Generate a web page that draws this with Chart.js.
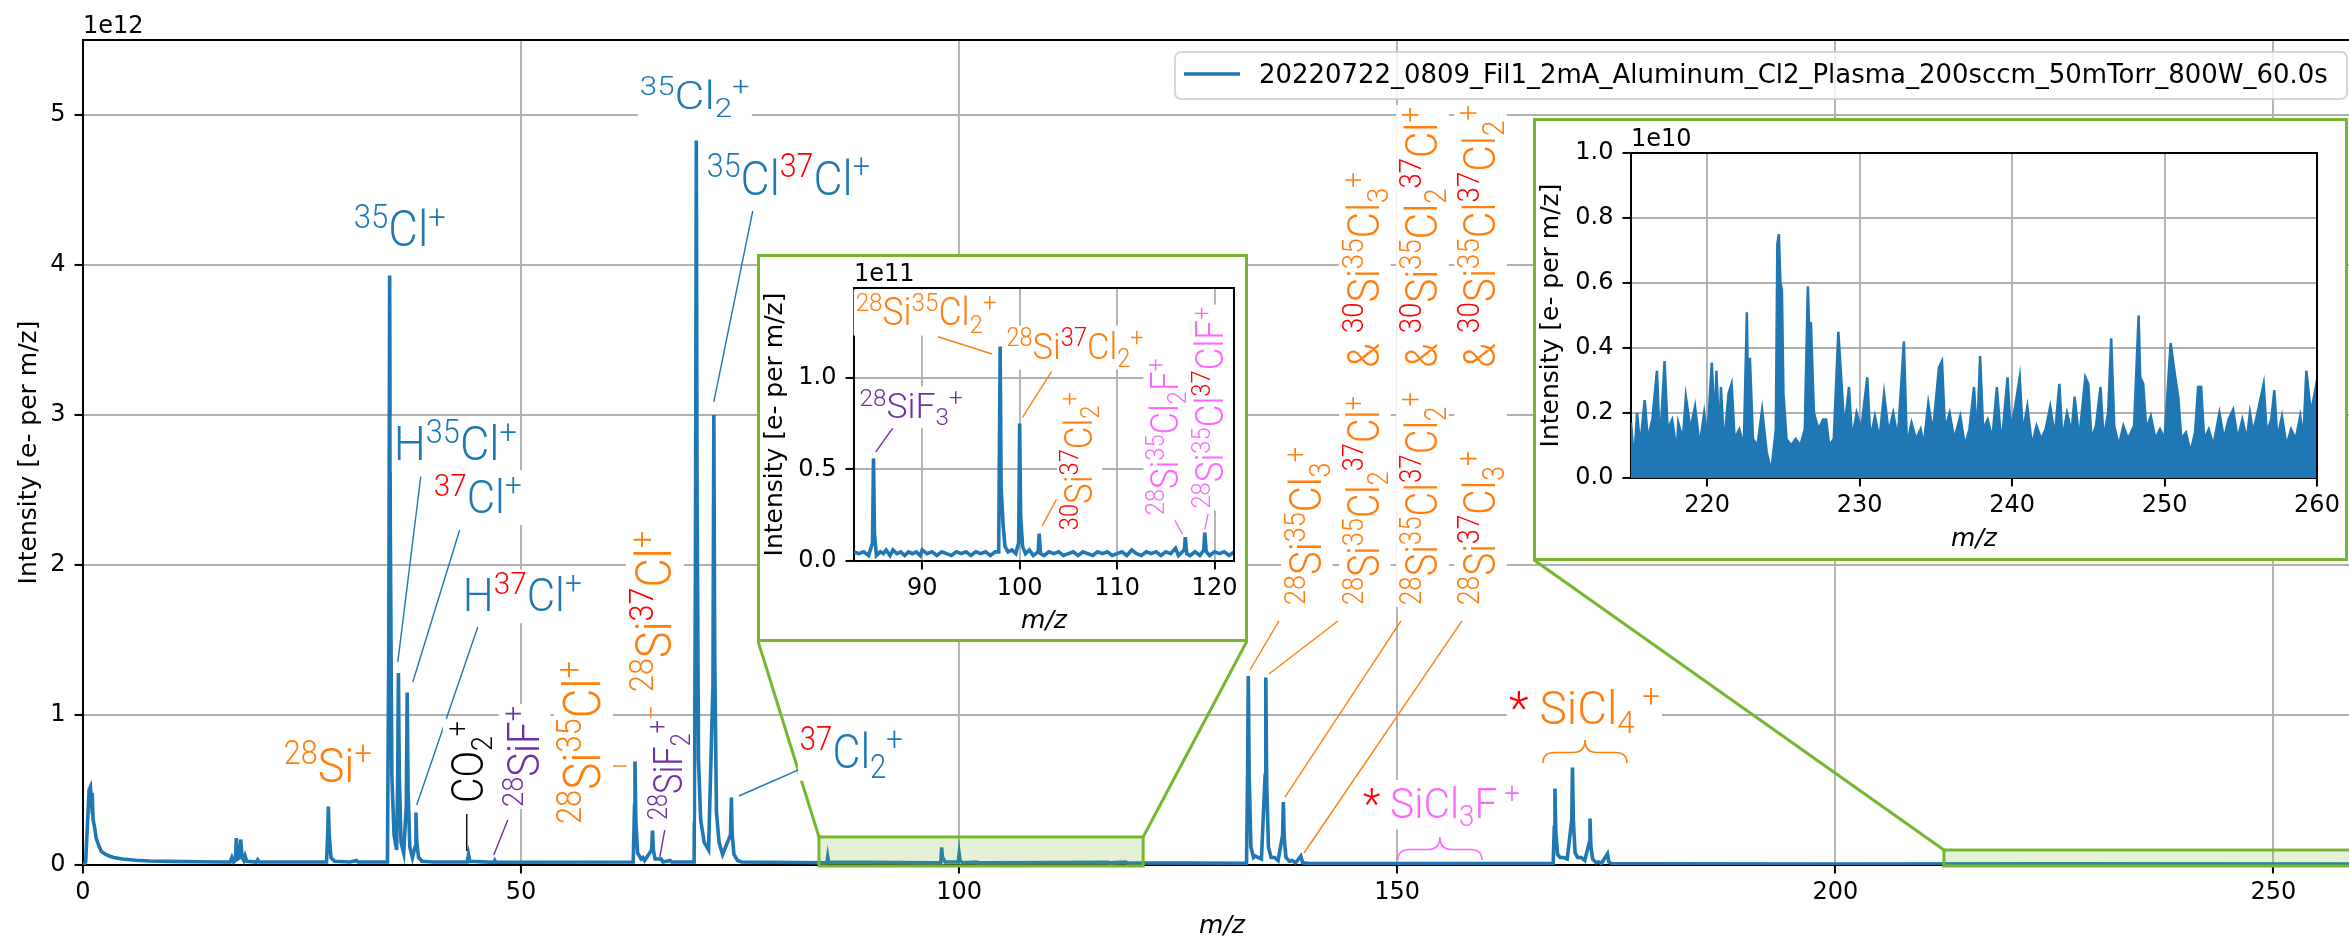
<!DOCTYPE html>
<html><head><meta charset="utf-8">
<script src="https://cdn.jsdelivr.net/npm/chart.js@4"></script>
<style>
body{margin:0;background:#fff;overflow:hidden;width:2349px;height:940px;position:relative}
canvas{display:block}
.box{position:absolute;background:#fff}
</style></head><body>
<canvas id="main" width="2365" height="940" style="position:absolute;left:0;top:0"></canvas>
<div class="box" id="box1"><canvas id="in1"></canvas></div>
<div class="box" id="box2"><canvas id="in2"></canvas></div>
<script>
// ---- data (m/z, intensity) ----
const legendLabel = '20220722_0809_Fil1_2mA_Aluminum_Cl2_Plasma_200sccm_50mTorr_800W_60.0s';

// full spectrum, intensity in units of 1e12 e- per m/z
const mainSpectrum = [
  [0.0,0.0],[0.3,0.02],[0.55,0.32],[0.7,0.5],[0.85,0.52],[0.95,0.44],[1.05,0.48],[1.15,0.3],[1.3,0.26],[1.5,0.18],
  [1.8,0.13],[2.1,0.09],[2.6,0.07],[3.0,0.06],[3.5,0.05],[4.5,0.04],[6,0.032],[7.6,0.027],[10,0.024],[13,0.022],[16,0.02],
  [16.8,0.02],[17.0,0.05],[17.2,0.02],[17.4,0.03],[17.5,0.18],[17.65,0.04],[17.9,0.05],[18.0,0.17],[18.15,0.05],[18.35,0.03],
  [18.5,0.06],[18.7,0.025],[19.8,0.02],[19.95,0.035],[20.15,0.02],
  [27.8,0.02],[27.95,0.25],[28.0,0.39],[28.1,0.2],[28.3,0.05],[28.7,0.025],[30.5,0.02],[31.2,0.03],[31.4,0.02],
  [34.75,0.02],[34.9,1.5],[35.0,3.93],[35.08,2.2],[35.25,0.6],[35.5,0.2],[35.8,0.1],[35.92,0.6],[36.0,1.28],[36.1,0.6],
  [36.3,0.15],[36.6,0.08],[36.9,0.4],[37.0,1.15],[37.1,0.5],[37.3,0.12],[37.6,0.05],[37.9,0.12],[38.0,0.35],[38.1,0.15],
  [38.3,0.05],[38.7,0.025],[40,0.02],
  [43.85,0.02],[44.0,0.07],[44.15,0.025],[46.9,0.018],[47.0,0.03],[47.1,0.018],
  [62.8,0.02],[62.95,0.4],[63.0,0.69],[63.1,0.3],[63.3,0.08],[63.7,0.04],[63.9,0.05],[64.1,0.03],[64.9,0.1],[65.0,0.23],
  [65.1,0.1],[65.3,0.04],[66.0,0.04],[66.2,0.02],[67.0,0.03],[67.2,0.02],
  [69.75,0.02],[69.9,2.0],[70.0,4.83],[70.08,2.6],[70.25,0.7],[70.5,0.3],[70.9,0.15],[71.4,0.1],[71.9,1.2],[72.0,3.0],
  [72.1,1.4],[72.3,0.35],[72.6,0.15],[73.0,0.07],[73.9,0.2],[74.0,0.45],[74.1,0.2],[74.3,0.07],[74.7,0.03],[75.2,0.02],
  [84.9,0.015],[85.0,0.056],[85.1,0.02],[97.9,0.015],[98.0,0.117],[98.1,0.05],[98.4,0.02],[99.9,0.02],[100.0,0.075],
  [100.1,0.03],[100.4,0.015],[102.0,0.02],[102.2,0.015],[117.0,0.018],[117.2,0.014],[119.0,0.02],[119.2,0.014],
  [132.8,0.012],[132.92,0.6],[133.0,1.26],[133.1,0.6],[133.3,0.12],[133.6,0.05],[133.8,0.06],[134.1,0.05],[134.5,0.04],
  [134.92,0.6],[135.0,1.25],[135.1,0.55],[135.3,0.12],[135.6,0.05],[136.0,0.05],[136.4,0.03],[136.92,0.2],[137.0,0.42],
  [137.1,0.18],[137.3,0.05],[137.7,0.025],[138.0,0.03],[138.4,0.015],[139.0,0.06],[139.2,0.015],[140,0.01],
  [167.8,0.01],[167.92,0.25],[168.0,0.51],[168.1,0.22],[168.3,0.07],[168.6,0.05],[169.0,0.05],[169.4,0.04],[169.92,0.3],
  [170.0,0.65],[170.1,0.3],[170.3,0.08],[170.6,0.05],[171.0,0.05],[171.4,0.03],[171.92,0.15],[172.0,0.31],[172.1,0.13],
  [172.3,0.04],[172.7,0.015],[173.0,0.02],[173.3,0.01],[174.0,0.075],[174.15,0.02],[174.5,0.01],[176,0.008],[200,0.006],
  [225,0.008],[260,0.006]
];

// zoom 83-122, intensity in units of 1e11
const inset1Spectrum = [
  [83,0.05],[83.5,0.04],[84,0.05],[84.5,0.03],[84.9,0.1],[85.0,0.56],[85.1,0.15],[85.3,0.03],[85.7,0.05],[86.0,0.04],
  [86.3,0.06],[86.7,0.03],[87.0,0.06],[87.4,0.04],[87.8,0.05],[88.2,0.03],[88.6,0.05],[89.0,0.04],[89.4,0.05],[89.8,0.03],
  [90.0,0.06],[90.5,0.04],[91.0,0.05],[91.5,0.03],[92,0.05],[92.5,0.04],[93,0.03],[93.5,0.05],[94,0.04],[94.5,0.05],
  [95,0.03],[95.5,0.05],[96,0.04],[96.5,0.05],[97,0.03],[97.5,0.05],[97.85,0.05],[98.0,1.17],[98.1,0.4],[98.3,0.2],
  [98.5,0.08],[98.8,0.05],[99.2,0.06],[99.6,0.04],[99.9,0.1],[100.0,0.75],[100.1,0.25],[100.3,0.08],[100.6,0.04],
  [101.0,0.06],[101.4,0.03],[101.9,0.05],[102.0,0.15],[102.15,0.04],[102.5,0.03],[103,0.05],[103.5,0.04],[104,0.05],
  [104.5,0.03],[105,0.04],[105.5,0.05],[106,0.03],[106.5,0.05],[107,0.04],[107.5,0.03],[108,0.05],[108.5,0.04],
  [109,0.05],[109.5,0.03],[110,0.04],[110.5,0.05],[111,0.03],[111.5,0.06],[112,0.04],[112.5,0.03],[113,0.05],
  [113.5,0.04],[114,0.05],[114.5,0.03],[115,0.05],[115.5,0.04],[116,0.07],[116.3,0.03],[116.9,0.06],[117.0,0.13],
  [117.15,0.04],[117.5,0.03],[118,0.05],[118.5,0.03],[118.9,0.06],[119.0,0.155],[119.15,0.05],[119.5,0.03],[120,0.05],
  [120.5,0.04],[121,0.05],[121.5,0.03],[122,0.05]
];

// zoom 215-260, intensity in units of 1e10
const inset2Spectrum = [
  [215.0,0.17],[215.2,0.05],[215.4,0.2],[215.6,0.1],[215.9,0.24],[216.1,0.12],[216.4,0.18],[216.7,0.33],[216.9,0.1],
  [217.2,0.36],[217.4,0.15],[217.7,0.18],[218.0,0.08],[218.1,0.17],[218.4,0.12],[218.6,0.25],[218.9,0.15],[219.2,0.22],
  [219.5,0.1],[219.8,0.2],[220.0,0.12],[220.3,0.355],[220.5,0.15],[220.6,0.33],[220.8,0.12],[220.9,0.28],[221.1,0.1],
  [221.4,0.26],[221.6,0.29],[221.8,0.12],[222.1,0.15],[222.4,0.1],[222.6,0.51],[222.7,0.2],[222.8,0.37],[223.0,0.12],
  [223.3,0.1],[223.6,0.21],[223.9,0.08],[224.2,0.02],[224.5,0.15],[224.6,0.72],[224.7,0.75],[224.8,0.6],[224.9,0.58],
  [225.0,0.26],[225.2,0.12],[225.5,0.1],[225.8,0.12],[226.1,0.1],[226.4,0.15],[226.6,0.59],[226.7,0.45],[226.8,0.48],
  [227.0,0.2],[227.3,0.15],[227.6,0.18],[227.8,0.18],[228.0,0.1],[228.3,0.12],[228.6,0.45],[228.8,0.3],[229.0,0.15],
  [229.3,0.28],[229.5,0.12],[229.8,0.2],[230.1,0.15],[230.5,0.31],[230.7,0.12],[231.0,0.19],[231.3,0.12],[231.6,0.26],
  [231.9,0.14],[232.2,0.2],[232.5,0.12],[232.9,0.42],[233.1,0.1],[233.4,0.17],[233.7,0.12],[234.0,0.15],[234.2,0.1],
  [234.5,0.23],[234.8,0.14],[235.2,0.34],[235.4,0.36],[235.6,0.15],[235.9,0.2],[236.2,0.12],[236.6,0.19],[236.9,0.1],
  [237.2,0.15],[237.5,0.28],[237.7,0.12],[237.9,0.375],[238.1,0.15],[238.4,0.18],[238.7,0.12],[239.0,0.28],[239.3,0.1],
  [239.7,0.31],[239.9,0.15],[240.2,0.22],[240.5,0.31],[240.7,0.14],[241.0,0.22],[241.3,0.1],[241.6,0.16],[241.9,0.12],
  [242.2,0.15],[242.5,0.22],[242.8,0.13],[243.1,0.29],[243.3,0.12],[243.6,0.2],[243.9,0.14],[244.1,0.25],[244.4,0.12],
  [244.8,0.31],[245.0,0.29],[245.2,0.12],[245.5,0.16],[245.8,0.28],[246.0,0.12],[246.3,0.2],[246.5,0.43],[246.7,0.16],
  [247.0,0.1],[247.3,0.16],[247.6,0.12],[248.0,0.16],[248.3,0.5],[248.4,0.31],[248.6,0.29],[248.8,0.15],[249.1,0.19],
  [249.4,0.12],[249.7,0.15],[250.0,0.12],[250.4,0.415],[250.7,0.31],[250.9,0.25],[251.1,0.12],[251.4,0.14],[251.7,0.08],
  [252.0,0.14],[252.2,0.28],[252.4,0.28],[252.6,0.12],[252.9,0.15],[253.2,0.1],[253.6,0.2],[253.9,0.12],[254.2,0.18],
  [254.5,0.21],[254.8,0.12],[255.1,0.18],[255.4,0.12],[255.6,0.2],[255.8,0.14],[256.1,0.2],[256.5,0.29],[256.7,0.14],
  [257.0,0.18],[257.2,0.27],[257.4,0.12],[257.7,0.19],[258.0,0.1],[258.3,0.15],[258.6,0.12],[258.9,0.19],[259.1,0.12],
  [259.3,0.33],[259.6,0.2],[260.0,0.3]
];

const mainXTicks = [0, 50, 100, 150, 200, 250];
const mainYTicks = [0, 1, 2, 3, 4, 5];
const in1XTicks = [90, 100, 110, 120];
const in1YTicks = [0, 0.5, 1.0];
const in2XTicks = [220, 230, 240, 250, 260];
const in2YTicks = [0, 0.2, 0.4, 0.6, 0.8, 1.0];
// zoom regions marked on the main axes (m/z range, intensity top in 1e12)
const zoom1 = {x0: 84, x1: 121, top: 0.187};
const zoom2 = {x0: 212.4, x1: 263, top: 0.10};

// ---- styles ----
const B='#1f77b4', O='#ff7f0e', R='#ff0000', P='#7030a0', M='#ff66ff', K='#000000';
const GRID='#b0b0b0', GREEN='#76b731', GREEN_FILL='rgba(118,183,49,0.2)';
const LBL = 'Roboto, "Noto Sans", sans-serif';
const tickFont = {family:'DejaVu Sans', size:24};
const titleFont = {family:'DejaVu Sans', size:25, lineHeight:1};
const BOX1 = {left:757, top:254, w:491, h:388};
const BOX2 = {left:1533, top:118, w:815, h:443};

function placeBox(id, b) {
  const d = document.getElementById(id);
  d.style.left = b.left+'px'; d.style.top = b.top+'px';
  d.style.width = b.w+'px'; d.style.height = b.h+'px';
  const c = d.querySelector('canvas'); c.width = b.w; c.height = b.h;
}
placeBox('box1', BOX1); placeBox('box2', BOX2);

function fnt(k, S) { return '300 ' + (k === 'n' ? S : S*0.68).toFixed(1) + 'px ' + LBL; }
function richW(ctx, segs, S) {
  let w = 0;
  for (const s of segs) { ctx.font = fnt(s[1], S); w += ctx.measureText(s[0]).width; }
  return w;
}
// segments: [text, 'n'|'u'|'d', colour]; len = target drawn length in px
function rich(ctx, segs, x, y, S, len, rot, box) {
  const w = richW(ctx, segs, S), sx = len ? len/w : 1, W = w*sx;
  ctx.save();
  ctx.translate(x, y);
  if (rot) ctx.rotate(-Math.PI/2);
  if (box) { ctx.fillStyle = '#fff'; ctx.fillRect(-2, -0.86*S-2, W+4, 1.08*S+4); }
  ctx.scale(sx, 1);
  ctx.textAlign = 'left'; ctx.textBaseline = 'alphabetic';
  let cx = 0;
  for (const [t, k, c] of segs) {
    ctx.font = fnt(k, S); ctx.fillStyle = c;
    ctx.fillText(t, cx, k === 'u' ? -0.36*S : k === 'd' ? 0.2*S : 0);
    cx += ctx.measureText(t).width;
  }
  ctx.restore();
}
function seg(ctx, x1, y1, x2, y2, c, w) {
  ctx.save(); ctx.strokeStyle = c; ctx.lineWidth = w || 1.4;
  ctx.beginPath(); ctx.moveTo(x1, y1); ctx.lineTo(x2, y2); ctx.stroke(); ctx.restore();
}
function brace(ctx, x1, x2, yT, yE, c) {
  const xm = (x1+x2)/2, yM = (yT+yE)/2 + 1, q = 12;
  ctx.save(); ctx.strokeStyle = c; ctx.lineWidth = 1.6; ctx.beginPath();
  ctx.moveTo(x1, yE); ctx.quadraticCurveTo(x1, yM, x1+q, yM); ctx.lineTo(xm-q, yM);
  ctx.quadraticCurveTo(xm, yM, xm, yT); ctx.quadraticCurveTo(xm, yM, xm+q, yM);
  ctx.lineTo(x2-q, yM); ctx.quadraticCurveTo(x2, yM, x2, yE); ctx.stroke(); ctx.restore();
}

// ---- label specs (positions in data units of each axes) ----
const mainLabels = [
  {s:[['35','u',B],['Cl','n',B],['+','u',B]], x:30.90, y:4.127, S:50, len:92},
  {s:[['35','u',B],['Cl','n',B],['2','d',B],['+','u',B]], x:63.55, y:5.04, S:38, len:110},
  {s:[['35','u',B],['Cl','n',B],['37','u',R],['Cl','n',B],['+','u',B]], x:71.20, y:4.467, S:49, len:163},
  {s:[['H','n',B],['35','u',B],['Cl','n',B],['+','u',B]], x:35.47, y:2.70, S:48, len:123},
  {s:[['37','u',R],['Cl','n',B],['+','u',B]], x:40.03, y:2.349, S:47, len:88},
  {s:[['H','n',B],['37','u',R],['Cl','n',B],['+','u',B]], x:43.34, y:1.693, S:46, len:119},
  {s:[['28','u',O],['Si','n',O],['+','u',O]], x:22.91, y:0.553, S:49, len:88},
  {s:[['37','u',R],['Cl','n',B],['2','d',B],['+','u',B]], x:81.82, y:0.647, S:49, len:103},
  {s:[['*','n',R],[' ','n',M],['SiCl','n',M],['3','d',M],['F','n',M],[' +','u',M]], x:146.08, y:0.313, S:42, len:157},
  {s:[['*','n',R],[' ','n',O],['SiCl','n',O],['4','d',O],[' +','u',O]], x:162.75, y:0.94, S:47, len:151}
];
const mainRotLabels = [
  {s:[['CO','n',K],['2','d',K],['+','u',K]], x:45.62, y:0.413, S:44, len:82},
  {s:[['28','u',P],['SiF','n',P],['+','u',P]], x:52.02, y:0.387, S:44, len:101},
  {s:[['28','u',O],['Si','n',O],['35','u',O],['Cl','n',O],['+','u',O]], x:58.98, y:0.273, S:51, len:163},
  {s:[['28','u',O],['Si','n',O],['37','u',R],['Cl','n',O],['+','u',O]], x:67.09, y:1.153, S:50, len:161},
  {s:[['28','u',P],['SiF','n',P],['2','d',P],['+','u',P]], x:68.35, y:0.30, S:41, len:100}
];
const mainColumns = [
  {x:141.29, S:44, top:2.787, parts:[
    {s:[['28','u',O],['Si','n',O],['35','u',O],['Cl','n',O],['3','d',O],['+','u',O]], y:1.733, len:158}]},
  {x:147.91, S:44, top:4.62, parts:[
    {s:[['28','u',O],['Si','n',O],['35','u',O],['Cl','n',O],['2','d',O],['37','u',R],['Cl','n',O],['+','u',O]], y:1.733, len:209},
    {s:[['& ','n',O],['30','u',R],['Si','n',O],['35','u',O],['Cl','n',O],['3','d',O],['+','u',O]], y:3.313, len:196}]},
  {x:154.53, S:45, top:5.053, parts:[
    {s:[['28','u',O],['Si','n',O],['35','u',O],['Cl','n',O],['37','u',R],['Cl','n',O],['2','d',O],['+','u',O]], y:1.733, len:213},
    {s:[['& ','n',O],['30','u',R],['Si','n',O],['35','u',O],['Cl','n',O],['2','d',O],['37','u',R],['Cl','n',O],['+','u',O]], y:3.313, len:261}]},
  {x:161.15, S:45, top:5.067, parts:[
    {s:[['28','u',O],['Si','n',O],['37','u',R],['Cl','n',O],['3','d',O],['+','u',O]], y:1.733, len:154},
    {s:[['& ','n',O],['30','u',R],['Si','n',O],['35','u',O],['Cl','n',O],['37','u',R],['Cl','n',O],['2','d',O],['+','u',O]], y:3.313, len:263}]}
];
const mainLeaders = [
  [76.44,4.36,72.0,3.087,B],[38.55,2.59,35.93,1.353,B],[42.99,2.233,37.64,1.22,B],[45.06,1.587,38.09,0.40,B],
  [43.80,0.34,43.80,0.093,K],[48.48,0.30,46.88,0.067,P],[59.33,0.66,62.07,0.66,O],[64.80,1.053,64.80,0.347,O],
  [66.40,0.233,65.83,0.053,P],[82.96,0.667,74.85,0.46,B],
  [136.5,1.627,133.19,1.30,O],[143.23,1.627,135.36,1.273,O],[150.43,1.627,137.19,0.453,O],[157.39,1.627,139.36,0.08,O]
];
const mainBraces = [[150.08,159.67,0.187,0.033,M],[166.63,176.22,0.833,0.68,O]];

const in1Labels = [
  {s:[['28','u',P],['SiF','n',P],['3','d',P],['+','u',P]], x:83.57, y:0.778, S:35, len:103},
  {s:[['28','u',O],['Si','n',O],['35','u',O],['Cl','n',O],['2','d',O],['+','u',O]], x:83.17, y:1.288, S:39, len:141},
  {s:[['28','u',O],['Si','n',O],['37','u',R],['Cl','n',O],['2','d',O],['+','u',O]], x:98.65, y:1.10, S:37, len:137}
];
const in1RotLabels = [
  {s:[['30','u',R],['Si','n',O],['37','u',R],['Cl','n',O],['2','d',O],['+','u',O]], x:107.4, y:0.168, S:38, len:138},
  {s:[['28','u',M],['Si','n',M],['35','u',M],['Cl','n',M],['2','d',M],['F','n',M],['+','u',M]], x:116.26, y:0.25, S:38, len:157},
  {s:[['28','u',M],['Si','n',M],['35','u',M],['Cl','n',M],['37','u',R],['Cl','n',M],['F','n',M],['+','u',M]], x:120.89, y:0.286, S:38, len:202}
];
const in1Leaders = [
  [87.03,0.729,85.23,0.596,P],[91.62,1.224,97.17,1.13,O],[103.27,1.033,100.29,0.784,O],
  [103.78,0.336,102.30,0.19,O],[115.93,0.222,116.72,0.146,M],[119.34,0.259,119.0,0.172,M]
];

// ---- axes helpers ----
function xAxis(min, max, ticks, height, titlePad) {
  return {type:'linear', min, max,
    afterBuildTicks: s => { s.ticks = ticks.map(v => ({value:v})); },
    afterFit: s => { s.height = height; },
    ticks:{font:tickFont, color:'#000', padding:5, maxRotation:0, autoSkip:false, callback:v => String(v)},
    grid:{color:GRID, lineWidth:1.9, tickLength:8.5, tickColor:'#000', tickWidth:2},
    border:{color:'#000', width:2},
    title:{display:true, text:'m/z', color:'#000', font:Object.assign({style:'italic'}, titleFont), padding:{top:0, bottom:titlePad}}};
}
function yAxis(min, max, ticks, width, dec, titlePad) {
  return {type:'linear', min, max,
    afterBuildTicks: s => { s.ticks = ticks.map(v => ({value:v})); },
    afterFit: s => { s.width = width; },
    ticks:{font:tickFont, color:'#000', padding:9, callback:v => v.toFixed(dec)},
    grid:{color:GRID, lineWidth:1.9, tickLength:8.5, tickColor:'#000', tickWidth:2},
    border:{color:'#000', width:2},
    title:{display:true, text:'Intensity [e- per m/z]', color:'#000', font:titleFont, padding:{top:titlePad, bottom:0}}};
}
function frame(ctx, a, exp) {
  ctx.save(); ctx.strokeStyle = '#000'; ctx.lineWidth = 2;
  ctx.beginPath(); ctx.moveTo(a.left, a.top); ctx.lineTo(a.right, a.top); ctx.lineTo(a.right, a.bottom); ctx.stroke();
  ctx.font = '24px DejaVu Sans'; ctx.fillStyle = '#000'; ctx.textAlign = 'left'; ctx.textBaseline = 'alphabetic';
  ctx.fillText(exp, a.left, a.top - 7);
  ctx.restore();
}
const baseOpts = {responsive:false, animation:false, devicePixelRatio:1, events:[],
  plugins:{legend:{display:false}, tooltip:{enabled:false}}};

// ---- main chart ----
const mainDeco = {
  id:'mainDeco',
  afterDatasetsDraw(chart) {
    const ctx = chart.ctx, xs = chart.scales.x, ys = chart.scales.y;
    const X = v => xs.getPixelForValue(v), Y = v => ys.getPixelForValue(v);
    // zoom rectangles and connectors
    ctx.save();
    for (const z of [zoom1, zoom2]) {
      ctx.fillStyle = GREEN_FILL; ctx.strokeStyle = GREEN; ctx.lineWidth = 3;
      ctx.fillRect(X(z.x0), Y(z.top), X(z.x1)-X(z.x0), Y(0)-Y(z.top)+1);
      ctx.strokeRect(X(z.x0), Y(z.top), X(z.x1)-X(z.x0), Y(0)-Y(z.top)+1);
    }
    ctx.restore();
    seg(ctx, BOX1.left+1, BOX1.top+BOX1.h-1, X(zoom1.x0), Y(zoom1.top), GREEN, 3);
    seg(ctx, BOX1.left+BOX1.w-1, BOX1.top+BOX1.h-1, X(zoom1.x1), Y(zoom1.top), GREEN, 3);
    seg(ctx, BOX2.left+1, BOX2.top+BOX2.h-1, X(zoom2.x0), Y(zoom2.top), GREEN, 3);
    // annotations
    for (const l of mainLeaders) seg(ctx, X(l[0]), Y(l[1]), X(l[2]), Y(l[3]), l[4]);
    for (const b of mainBraces) brace(ctx, X(b[0]), X(b[1]), Y(b[2]), Y(b[3]), b[4]);
    for (const l of mainLabels) rich(ctx, l.s, X(l.x), Y(l.y), l.S, l.len, false, true);
    for (const l of mainRotLabels) rich(ctx, l.s, X(l.x), Y(l.y), l.S, l.len, true, true);
    for (const c of mainColumns) {
      const xb = X(c.x), yb = Y(c.parts[0].y), yt = Y(c.top);
      ctx.fillStyle = '#fff';
      ctx.fillRect(xb - 0.86*c.S - 2, yt - 2, 1.08*c.S + 4, yb - yt + 4);
      for (const p of c.parts) rich(ctx, p.s, xb, Y(p.y), c.S, p.len, true, false);
    }
  },
  afterDraw(chart) {
    const ctx = chart.ctx;
    frame(ctx, chart.chartArea, '1e12');
    // legend
    ctx.save();
    ctx.fillStyle = 'rgba(255,255,255,0.8)'; ctx.strokeStyle = 'rgba(204,204,204,0.8)'; ctx.lineWidth = 2;
    ctx.beginPath(); ctx.roundRect(1175, 52, 1172, 47, 6); ctx.fill(); ctx.stroke();
    seg(ctx, 1184, 74, 1240, 74, B, 3.6);
    ctx.font = '24px DejaVu Sans';
    const fs = 24 * 1069 / ctx.measureText(legendLabel).width;
    ctx.font = fs.toFixed(2) + 'px DejaVu Sans'; ctx.fillStyle = '#000'; ctx.textBaseline = 'alphabetic';
    ctx.fillText(legendLabel, 1259, 83);
    ctx.restore();
  }
};

new Chart(document.getElementById('main'), {
  type:'line',
  data:{datasets:[{label:legendLabel, data:mainSpectrum.map(([x,y]) => ({x, y})),
    borderColor:B, borderWidth:3.6, pointRadius:0, tension:0, fill:false}]},
  options:Object.assign({}, baseOpts, {
    layout:{padding:{top:40, right:4, left:0, bottom:0}},
    scales:{x:xAxis(0, 260, mainXTicks, 75, 1), y:yAxis(0, 5.5, mainYTicks, 83, 0, 17)}}),
  plugins:[mainDeco]
});

// ---- insets ----
function insetDeco(exp, labels, rots, leaders) {
  return {
    id:'insetDeco',
    afterDatasetsDraw(chart) {
      const ctx = chart.ctx, xs = chart.scales.x, ys = chart.scales.y;
      const X = v => xs.getPixelForValue(v), Y = v => ys.getPixelForValue(v);
      for (const l of leaders) seg(ctx, X(l[0]), Y(l[1]), X(l[2]), Y(l[3]), l[4]);
      for (const l of labels) rich(ctx, l.s, X(l.x), Y(l.y), l.S, l.len, false, true);
      for (const l of rots) rich(ctx, l.s, X(l.x), Y(l.y), l.S, l.len, true, true);
    },
    afterDraw(chart) {
      const ctx = chart.ctx;
      frame(ctx, chart.chartArea, exp);
      ctx.save(); ctx.strokeStyle = GREEN; ctx.lineWidth = 3;
      ctx.strokeRect(1.5, 1.5, chart.width-3, chart.height-3); ctx.restore();
    }
  };
}

new Chart(document.getElementById('in1'), {
  type:'line',
  data:{datasets:[{data:inset1Spectrum.map(([x,y]) => ({x, y})), borderColor:B, borderWidth:3.6, pointRadius:0, tension:0, fill:false}]},
  options:Object.assign({}, baseOpts, {
    layout:{padding:{top:34, right:14, left:0, bottom:0}},
    scales:{x:xAxis(83, 122, in1XTicks, 81, 8), y:yAxis(0, 1.49, in1YTicks, 97, 1, 6)}}),
  plugins:[insetDeco('1e11', in1Labels, in1RotLabels, in1Leaders)]
});

new Chart(document.getElementById('in2'), {
  type:'line',
  data:{datasets:[{data:inset2Spectrum.map(([x,y]) => ({x, y})), borderColor:B, backgroundColor:B, borderWidth:2.5, pointRadius:0, tension:0, fill:'origin'}]},
  options:Object.assign({}, baseOpts, {
    layout:{padding:{top:35, right:31, left:0, bottom:0}},
    scales:{x:xAxis(215, 260, in2XTicks, 83, 9), y:yAxis(0, 1.0, in2YTicks, 98, 1, 6)}}),
  plugins:[insetDeco('1e10', [], [], [])]
});
</script>
</body></html>
